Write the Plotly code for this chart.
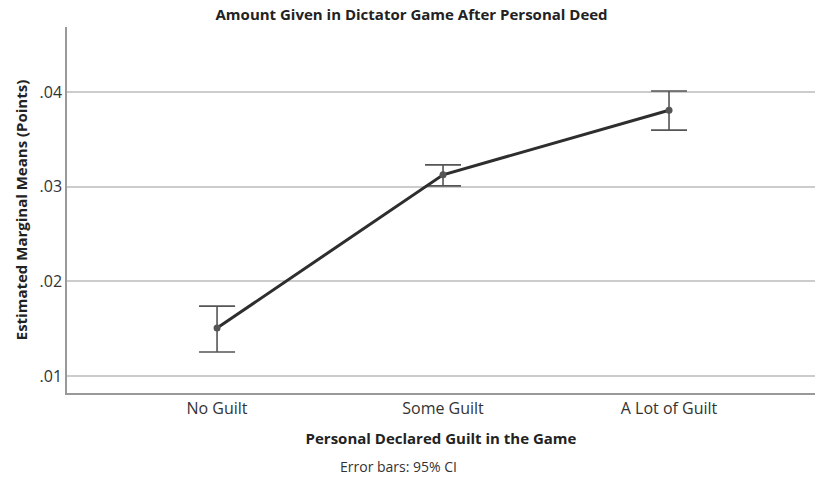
import plotly.graph_objects as go

categories = ["No Guilt", "Some Guilt", "A Lot of Guilt"]
means = [0.01507, 0.03127, 0.0381]
ci_upper = [0.01739, 0.03232, 0.04014]
ci_lower = [0.01253, 0.0301, 0.0360]
y_ticks = [0.01, 0.02, 0.03, 0.04]
y_tick_labels = [".01", ".02", ".03", ".04"]

xpos = list(range(len(categories)))
err_plus = [u - m for u, m in zip(ci_upper, means)]
err_minus = [m - l for m, l in zip(means, ci_lower)]

fig = go.Figure()
fig.add_trace(go.Scatter(
    x=xpos, y=means, mode="lines+markers",
    line=dict(color="#2e2e2e", width=3),
    marker=dict(color="#555555", size=7),
    error_y=dict(type="data", symmetric=False, array=err_plus, arrayminus=err_minus,
                 color="#555555", thickness=1.6, width=18),
    showlegend=False,
))

font = "Open Sans, DejaVu Sans, sans-serif"
fig.update_layout(
    width=815, height=481,
    margin=dict(l=67, r=0, t=27, b=88),
    paper_bgcolor="white", plot_bgcolor="white",
    title=dict(text="<b>Amount Given in Dictator Game After Personal Deed</b>",
               x=0.505, xref="container", y=(481 - 15) / 481, yref="container",
               xanchor="center", yanchor="middle",
               font=dict(family=font, size=15, color="#222222")),
    xaxis=dict(range=[-0.664, 2.646], tickmode="array", tickvals=xpos, ticktext=categories,
               showgrid=False, zeroline=False, showline=True, linecolor="#999999", linewidth=1.5,
               ticks="", tickfont=dict(family=font, size=16, color="#333333"),
               title=dict(text="<b>Personal Declared Guilt in the Game</b>", standoff=16,
                          font=dict(family=font, size=15, color="#222222"))),
    yaxis=dict(range=[0.0082, 0.0469], tickmode="array", tickvals=y_ticks, ticktext=y_tick_labels,
               showgrid=True, gridcolor="#cccccc", gridwidth=1.5, zeroline=False,
               showline=True, linecolor="#999999", linewidth=1.5, ticks="",
               tickfont=dict(family=font, size=16, color="#333333"),
               title=dict(text="<b>Estimated Marginal Means (Points)</b>", standoff=8,
                          font=dict(family=font, size=15, color="#222222"))),
    annotations=[dict(text="Error bars: 95% CI", x=0.443, y=-0.202, xref="paper", yref="paper",
                      xanchor="center", yanchor="middle", showarrow=False,
                      font=dict(family=font, size=14, color="#333333"))],
)
fig.write_html("out.html", config={"displayModeBar": False},
               post_script="document.body.style.margin='0';")
